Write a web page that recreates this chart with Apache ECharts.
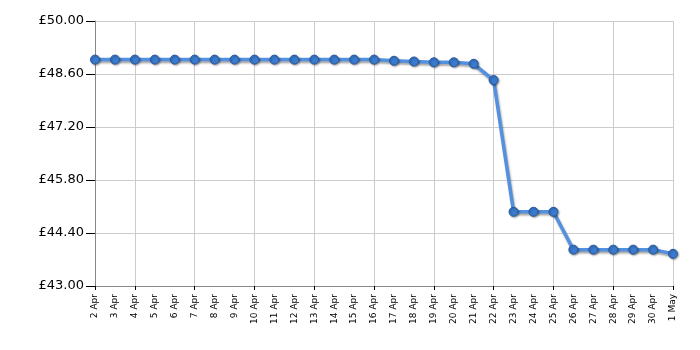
<!DOCTYPE html>
<html>
<head>
<meta charset="utf-8">
<script src="https://cdn.jsdelivr.net/npm/echarts@6/dist/echarts.min.js"></script>
<style>html,body{margin:0;padding:0;background:#fff}#c{width:700px;height:350px}</style>
</head>
<body>
<div id="c"></div>
<script>
var categories = ["2 Apr","3 Apr","4 Apr","5 Apr","6 Apr","7 Apr","8 Apr","9 Apr","10 Apr","11 Apr","12 Apr","13 Apr","14 Apr","15 Apr","16 Apr","17 Apr","18 Apr","19 Apr","20 Apr","21 Apr","22 Apr","23 Apr","24 Apr","25 Apr","26 Apr","27 Apr","28 Apr","29 Apr","30 Apr","1 May"];
var prices = [48.98,48.98,48.98,48.98,48.98,48.98,48.98,48.98,48.98,48.98,48.98,48.98,48.98,48.98,48.98,48.95,48.93,48.91,48.91,48.87,48.44,44.96,44.96,44.96,43.96,43.96,43.96,43.96,43.96,43.85];
var yMin = 43, yMax = 50, yStep = 1.4;

var chart = echarts.init(document.getElementById('c'), null, {renderer: 'canvas'});
var gridShown = function (i) { return i === 0 || (i - 2) % 3 === 0; };
chart.setOption({
  animation: false,
  grid: {left: 95, right: 27, top: 21, bottom: 64},
  xAxis: {
    type: 'category',
    data: categories,
    boundaryGap: false,
    axisLine: {lineStyle: {color: '#888', width: 1}},
    axisTick: {show: true, interval: function (i) { return gridShown(i); }, length: 4, lineStyle: {color: '#000'}},
    splitLine: {show: true, interval: function (i) { return gridShown(i); }, lineStyle: {color: '#cccccc', width: 1}},
    axisLabel: {interval: 0, rotate: 90, fontFamily: 'DejaVu Sans', fontSize: 9, color: '#000', margin: 8}
  },
  yAxis: {
    type: 'value',
    min: yMin, max: yMax, interval: yStep,
    axisLine: {show: true, lineStyle: {color: '#888', width: 1}},
    axisTick: {show: true, length: 9, lineStyle: {color: '#000'}},
    splitLine: {show: true, lineStyle: {color: '#cccccc', width: 1}},
    axisLabel: {fontFamily: 'DejaVu Sans', fontSize: 13, color: '#000', margin: 11,
      formatter: function (v) { return '£' + v.toFixed(2); }}
  },
  series: [{
    type: 'line',
    data: prices,
    symbol: 'circle',
    symbolSize: 9,
    lineStyle: {color: '#5390e0', width: 3.5, shadowColor: 'rgba(0,0,0,0.35)', shadowBlur: 2, shadowOffsetX: 1, shadowOffsetY: 2},
    itemStyle: {color: '#3a7bd0', borderColor: '#28589a', borderWidth: 1, shadowColor: 'rgba(0,0,0,0.35)', shadowBlur: 2, shadowOffsetX: 1, shadowOffsetY: 1}
  }]
});
</script>
</body>
</html>
